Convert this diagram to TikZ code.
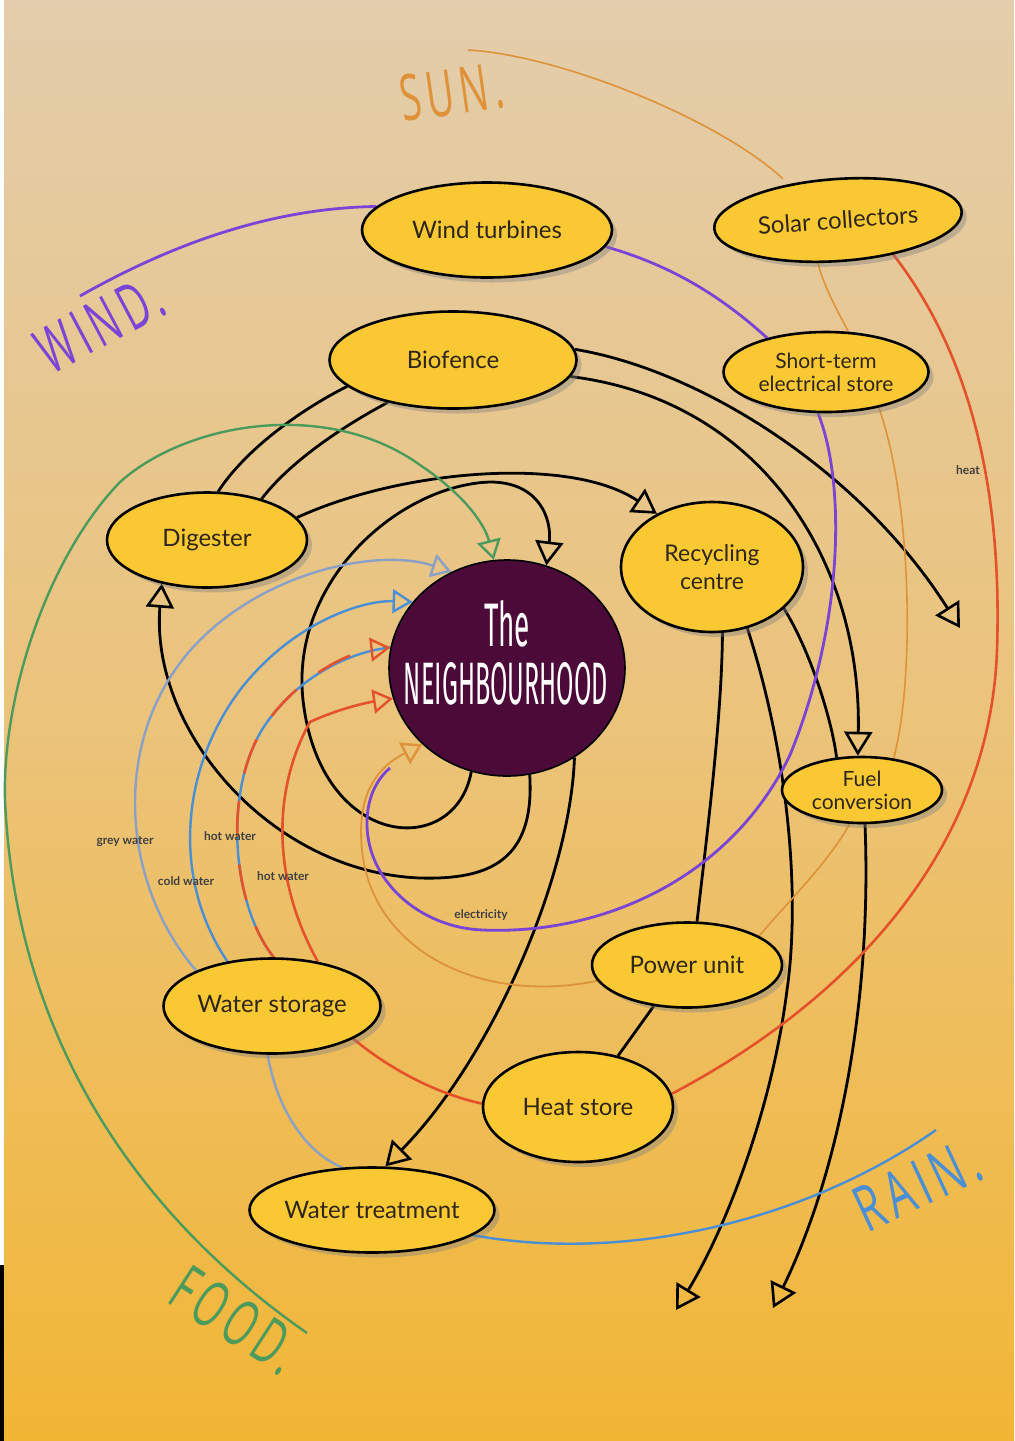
\documentclass[tikz,border=0pt]{standalone}
\usepackage{graphicx}
\usepackage{fontspec}
\setmainfont{Lato}
\newfontfamily\handfont[LetterSpace=14]{Open Sans}
\newfontfamily\nbhfont{Fira Sans}
\usetikzlibrary{shapes.geometric,arrows.meta,shadows}
\pgfdeclarelayer{bg}
\pgfdeclarelayer{lines}
\pgfsetlayers{bg,lines,main}
\definecolor{bgtop}{HTML}{E3CDAC}
\definecolor{bgmid}{HTML}{EBC37A}
\definecolor{bgbot}{HTML}{F2B635}
\definecolor{nodey}{HTML}{F9C833}
\definecolor{nbhc}{HTML}{4B0A37}
\definecolor{cpurple}{HTML}{7A44D6}
\definecolor{corange}{HTML}{DE923A}
\definecolor{cred}{HTML}{E4522B}
\definecolor{cgreen}{HTML}{4C9A5C}
\definecolor{cblue}{HTML}{4A8FD6}
\definecolor{cgrey}{HTML}{8AA0C6}
\definecolor{ntext}{HTML}{2E2618}
\tikzset{
  blob/.style={ellipse, draw=black, line width=1.3pt, fill=nodey, inner xsep=-10pt, inner ysep=-2pt,
    align=center, text=ntext, font=\fontsize{12}{13.5}\selectfont,
    drop shadow={opacity=0.4, shadow xshift=2.5pt, shadow yshift=-2.5pt}},
  nbhst/.style={ellipse, draw=black, line width=0.8pt, fill=nbhc, inner sep=0pt,
    minimum width=118pt, minimum height=108pt},
  blk/.style={draw=black, line width=1.4pt},
  blkarr/.style={blk, -{Triangle[open, length=12pt, width=14pt, line width=1.3pt]}},
  colarr/.style={-{Triangle[open, length=10pt, width=12pt, line width=1.2pt]}},
  purp/.style={draw=cpurple, line width=1.4pt},
  oran/.style={draw=corange, line width=0.8pt},
  redl/.style={draw=cred, line width=1.3pt},
  greenl/.style={draw=cgreen, line width=1.2pt},
  bluel/.style={draw=cblue, line width=1.2pt},
  greyl/.style={draw=cgrey, line width=1.2pt},
  smalltxt/.style={font=\fontsize{6}{7}\selectfont\bfseries, text=black!75, inner sep=0pt},
  handtxt/.style={font=\handfont\fontsize{32}{32}\selectfont, inner sep=0pt}
}
\begin{document}
\begin{tikzpicture}[x=0.5pt, y=-0.5pt]
\useasboundingbox (0,0) rectangle (1014,1441);
\begin{pgfonlayer}{bg}
  \shade[top color=bgtop, bottom color=bgbot, middle color=bgmid] (0,0) rectangle (1014,1441);
  \fill[white] (0,0) rectangle (4,1265);
  \fill[black] (0,1265) rectangle (4,1441);
\end{pgfonlayer}

% nodes
\node[blob, minimum width=125pt, minimum height=47.5pt] (wind) at (487,230) {Wind turbines};
\node[blob, minimum width=124pt, minimum height=41pt, rotate=4] (solar) at (838,220) {Solar collectors};
\node[blob, minimum width=123.5pt, minimum height=48.5pt] (bio) at (453,360) {Biofence};
\node[blob, minimum width=102.5pt, minimum height=40pt, font=\fontsize{10.5}{11.5}\selectfont] (store) at (826,372) {Short-term\\electrical store};
\node[blob, minimum width=100pt, minimum height=47.5pt] (dig) at (207,540) {Digester};
\node[blob, minimum width=91pt, minimum height=65pt, font=\fontsize{11.5}{14}\selectfont] (rec) at (712,567) {Recycling\\centre};
\node[nbhst] (nbh) at (507,668) {};
\node[text=white, inner sep=0pt] (nbhthe) at (507,624) {\resizebox{23pt}{23pt}{\nbhfont The}};
\node[text=white, inner sep=0pt] (nbhname) at (506,684) {\resizebox{102pt}{21pt}{\nbhfont NEIGHBOURHOOD}};
\node[blob, minimum width=80pt, minimum height=33pt, font=\fontsize{10.5}{11.5}\selectfont] (fuel) at (862,790) {Fuel\\conversion};
\node[blob, minimum width=95pt, minimum height=42.5pt] (power) at (687,965) {Power unit};
\node[blob, minimum width=108.5pt, minimum height=47.5pt] (wstore) at (272,1006) {Water storage};
\node[blob, minimum width=95pt, minimum height=55pt] (heat) at (578,1107) {Heat store};
\node[blob, minimum width=122.5pt, minimum height=42.5pt] (wtreat) at (372,1210) {Water treatment};

% small labels
\node[smalltxt] (lgrey) at (125,842) {grey water};
\node[smalltxt] (lcold) at (186,881) {cold water};
\node[smalltxt] (lhot1) at (230,836) {hot water};
\node[smalltxt] (lhot2) at (283,876) {hot water};
\node[smalltxt] (lelec) at (481,915) {electricity};
\node[smalltxt] (lheat) at (968,470) {heat};

% hand-written labels
\node[handtxt, text=cpurple, rotate=28] (windlab) at (100,324) {\scalebox{0.6}[1]{WIND.}};
\node[handtxt, text=corange, rotate=8] (sunlab) at (452,92) {\scalebox{0.6}[1]{SUN.}};
\node[handtxt, text=cgreen, rotate=-33] (foodlab) at (236,1320) {\scalebox{0.6}[1]{FOOD.}};
\node[handtxt, text=cblue, rotate=25] (rainlab) at (918,1185) {\scalebox{0.66}[1]{RAIN.}};

% free ends
\coordinate (windtail) at (80,296);
\coordinate (suntail) at (468,50);
\coordinate (foodtail) at (307,1333);
\coordinate (raintail) at (936,1130);
\coordinate (bioout) at (960,628);
\coordinate (recout) at (676,1310);
\coordinate (fuelout) at (773,1308);
\coordinate (elecend) at (390,768);

\begin{pgfonlayer}{lines}
% black flows
\draw[blk] (bio.194) .. controls (300,410) and (245,450) .. (dig.77);
\draw[blk] (bio.213) .. controls (340,428) and (290,462) .. (dig.37);
\draw[blkarr] (bio.5) .. controls (700,370) and (860,470) .. (bioout);
\draw[blkarr] (bio.352) .. controls (760,400) and (862,560) .. (fuel.97);
\draw[blkarr] (dig.14) .. controls (400,470) and (570,455) .. (rec.136);
\draw[blkarr] (nbh.251) .. controls (455,860) and (320,850) .. (303,700)
   .. controls (290,580) and (400,485) .. (490,482)
   .. controls (540,482) and (552,520) .. (nbh.69);
\draw[blkarr] (nbh.282) .. controls (535,860) and (490,880) .. (420,878)
   .. controls (270,872) and (150,730) .. (dig.224);
\draw[blkarr] (nbh.307) .. controls (570,880) and (490,1060) .. (wtreat.73);
\draw[blk] (rec.279) .. controls (722,720) and (705,850) .. (power.77);
\draw[blkarr] (rec.300) .. controls (790,760) and (800,900) .. (787,990)
   .. controls (772,1110) and (725,1230) .. (recout);
\draw[blk] (rec.330) .. controls (810,650) and (832,720) .. (fuel.128);
\draw[blkarr] (fuel.275) .. controls (872,1000) and (840,1170) .. (fuelout);
\draw[blk] (power.231) -- (heat.52);

% purple (wind / electricity)
\draw[purp] (windtail) .. controls (170,245) and (270,208) .. (wind.168);
\draw[purp] (wind.352) .. controls (670,265) and (720,295) .. (store.150);
\draw[purp] (store.259) .. controls (845,480) and (845,620) .. (790,755)
   .. controls (730,880) and (600,935) .. (483,930)
   .. controls (420,928) and (365,880) .. (367,820)
   .. controls (368,795) and (378,778) .. (elecend);

% orange (sun)
\draw[oran, shorten >=4pt] (suntail) .. controls (560,55) and (720,120) .. (solar.140);
\draw[oran] (solar.241) .. controls (825,290) and (840,315) .. (store.61);
\draw[oran] (store.326) .. controls (912,500) and (915,680) .. (fuel.45);
\draw[oran] (fuel.250) .. controls (830,860) and (790,900) .. (power.22);
\draw[oran, colarr, line width=0.9pt] (power.190) .. controls (480,1005) and (372,950) .. (362,850)
   .. controls (357,800) and (372,770) .. (nbh.222);

% red (heat)
\draw[redl] (solar.324) .. controls (975,360) and (1002,500) .. (997,650)
   .. controls (990,850) and (850,1000) .. (heat.8);
\draw[redl] (heat.178) .. controls (430,1092) and (385,1065) .. (wstore.338);
\draw[redl, colarr] (wstore.44) .. controls (272,880) and (272,790) .. (310,722)
   .. controls (340,708) and (370,702) .. (nbh.195);
\draw[bluel] (wstore.88) .. controls (232,905) and (222,790) .. (265,725)
   .. controls (300,675) and (350,652) .. (nbh.170);
\draw[redl, colarr, dash pattern=on 18pt off 14pt] (wstore.88) .. controls (232,905) and (222,790) .. (265,725)
   .. controls (300,675) and (350,652) .. (nbh.170);

% water
\draw[bluel, colarr] (wstore.135) .. controls (172,880) and (180,770) .. (240,690)
   .. controls (290,625) and (360,600) .. (nbh.145);
\draw[greyl, colarr] (wstore.155) .. controls (118,880) and (110,730) .. (200,640)
   .. controls (270,570) and (380,548) .. (nbh.120);
\draw[greyl] (wstore.265) .. controls (275,1100) and (300,1150) .. (wtreat.125);
\draw[bluel] (wtreat.346) .. controls (620,1262) and (800,1225) .. (raintail);

% green (food)
\draw[greenl, colarr] (foodtail) .. controls (130,1210) and (15,1030) .. (5,800)
   .. controls (2,700) and (45,560) .. (120,482)
   .. controls (190,420) and (330,400) .. (420,465)
   .. controls (465,495) and (485,525) .. (nbh.97);
\end{pgfonlayer}
\end{tikzpicture}
\end{document}
